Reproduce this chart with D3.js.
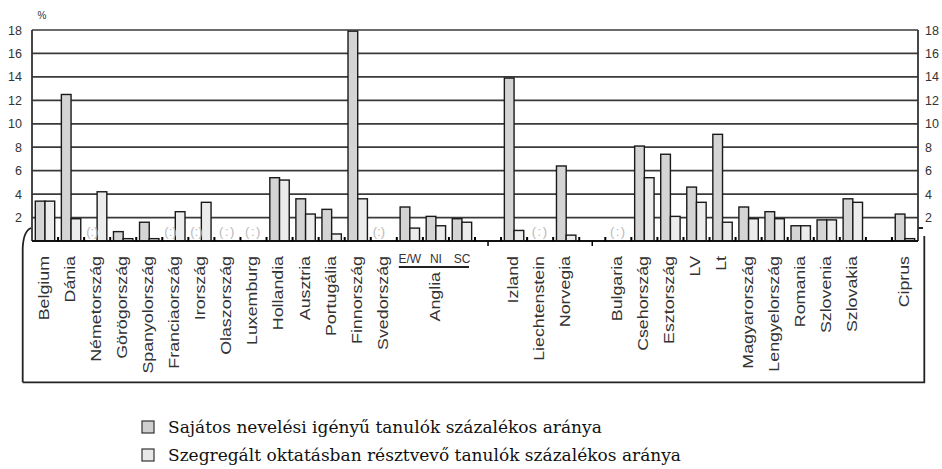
<!DOCTYPE html>
<html>
<head>
<meta charset="utf-8">
<script src="https://cdn.jsdelivr.net/npm/d3@7"></script>
<style>
  body { margin: 0; background: #fff; }
  svg { display: block; }
</style>
</head>
<body>
<div id="vis"></div>
<script>
// országok (üres = elválasztó hely)
const categories = ["Belgium", "Dánia", "Németország", "Görögország", "Spanyolország", "Franciaország",
  "Irország", "Olaszország", "Luxemburg", "Hollandia", "Ausztria", "Portugália", "Finnország",
  "Svedország", "E/W", "NI", "SC", "", "Izland", "Liechtenstein", "Norvegia", "", "Bulgaria",
  "Csehország", "Esztország", "LV", "Lt", "Magyarország", "Lengyelország", "Romania", "Szlovenia",
  "Szlovakia", "", "Ciprus"];
// Sajátos nevelési igényű tanulók százalékos aránya
const sni = [3.4, 12.5, null, 0.8, 1.6, null, null, null, null, 5.4, 3.6, 2.7, 17.9, null, 2.9, 2.1, 1.9, 0,
  13.9, null, 6.4, 0, null, 8.1, 7.4, 4.6, 9.1, 2.9, 2.5, 1.3, 1.8, 3.6, 0, 2.3];
// Szegregált oktatásban résztvevő tanulók százalékos aránya
const szeg = [3.4, 1.9, 4.2, 0.2, 0.2, 2.5, 3.3, null, null, 5.2, 2.3, 0.6, 3.6, 0, 1.1, 1.3, 1.6, 0,
  0.9, null, 0.5, 0, null, 5.4, 2.1, 3.3, 1.6, 1.9, 1.9, 1.3, 1.8, 3.3, 0, 0.2];
// hiányzó adat "(:)" : [ország index, melyik oszlop]
const missing = [[2, "sni"], [5, "sni"], [6, "sni"], [7, "both"], [8, "both"], [13, "sni"], [19, "both"], [22, "both"]];
const yTicks = [2, 4, 6, 8, 10, 12, 14, 16, 18];
const hLabels = [14, 15, 16]; // E/W, NI, SC vízszintesen
const legendLabels = ["Sajátos nevelési igényű tanulók százalékos aránya",
  "Szegregált oktatásban résztvevő tanulók százalékos aránya"];

const size = {width: 942, height: 469};
const margin = {left: 32, right: 24, top: 30, bottom: 228};
const colors = {sni: "#d4d4d4", szeg: "#ececec"};
const sans = "Liberation Sans, Arial, sans-serif";

const svg = d3.select("#vis").append("svg")
  .attr("width", size.width)
  .attr("height", size.height);

const x = d3.scaleBand()
  .domain(d3.range(categories.length))
  .range([margin.left, size.width - margin.right]);
const xs = d3.scaleBand()
  .domain(["sni", "szeg"])
  .range([3.3, 22.7]);
const y = d3.scaleLinear()
  .domain([0, 18])
  .range([size.height - margin.bottom, margin.top]);
const y0 = y(0);
const left = margin.left, right = size.width - margin.right;

// label box under the chart
svg.append("path")
  .attr("d", `M22.7,382.3 L22.7,248 Q23.5,231 31,228 M918,228 L923,228 M924.3,236 L924.3,382.3 L22.7,382.3`)
  .attr("fill", "none").attr("stroke", "#222").attr("stroke-width", 1.8);

// gridlines
svg.append("g").selectAll("line")
  .data(yTicks)
  .join("line")
  .attr("x1", left).attr("x2", right)
  .attr("y1", d => y(d)).attr("y2", d => y(d))
  .attr("stroke", "#3a3a3a").attr("stroke-width", 1.7);

// frame sides
svg.append("line").attr("x1", left).attr("x2", left).attr("y1", y(18)).attr("y2", y0)
  .attr("stroke", "#333").attr("stroke-width", 1.8);
svg.append("line").attr("x1", right).attr("x2", right).attr("y1", y(18)).attr("y2", y0)
  .attr("stroke", "#333").attr("stroke-width", 1.8);

// bars
const bars = [];
categories.forEach((c, i) => {
  if (sni[i]) bars.push({i, key: "sni", v: sni[i]});
  if (szeg[i]) bars.push({i, key: "szeg", v: szeg[i]});
});
svg.append("g").selectAll("rect")
  .data(bars)
  .join("rect")
  .attr("x", d => x(d.i) + xs(d.key))
  .attr("y", d => y(d.v))
  .attr("width", xs.bandwidth())
  .attr("height", d => y0 - y(d.v))
  .attr("fill", d => colors[d.key])
  .attr("stroke", "#1a1a1a")
  .attr("stroke-width", 1.4);

svg.append("line").attr("x1", left).attr("x2", right).attr("y1", y0).attr("y2", y0)
  .attr("stroke", "#111").attr("stroke-width", 2);

// small inside ticks at category boundaries
svg.append("g").selectAll("line")
  .data(d3.range(1, categories.length))
  .join("line")
  .attr("x1", d => left + x.step() * d).attr("x2", d => left + x.step() * d)
  .attr("y1", y0).attr("y2", y0 - 4)
  .attr("stroke", "#000").attr("stroke-width", 2);
// outside ticks in two separator gaps
svg.append("g").selectAll("line")
  .data([17, 21])
  .join("line")
  .attr("x1", d => x(d) + x.bandwidth() / 2).attr("x2", d => x(d) + x.bandwidth() / 2)
  .attr("y1", y0).attr("y2", y0 + 5)
  .attr("stroke", "#000").attr("stroke-width", 1.5);

// "(:)" missing markers
svg.append("g").selectAll("text")
  .data(missing)
  .join("text")
  .attr("x", d => d[1] === "both" ? x(d[0]) + x.bandwidth() / 2 : x(d[0]) + xs(d[1]) + xs.bandwidth() / 2)
  .attr("y", y0 - 5)
  .attr("text-anchor", "middle")
  .attr("font-family", sans)
  .attr("font-size", 13)
  .attr("letter-spacing", d => d[1] === "both" ? 1.5 : 0)
  .attr("fill", "#b8b8b8")
  .text("(:)");

// y axes
svg.append("g")
  .attr("transform", `translate(${left},0)`)
  .call(d3.axisLeft(y).tickValues(yTicks).tickSize(0).tickPadding(10));
svg.append("g")
  .attr("transform", `translate(${right},0)`)
  .call(d3.axisRight(y).tickValues(yTicks).tickSize(0).tickPadding(7));
svg.selectAll(".domain").remove();
svg.selectAll(".tick text")
  .attr("font-family", sans)
  .attr("font-size", 12.5)
  .attr("fill", "#333");

svg.append("text")
  .attr("x", 42).attr("y", 19)
  .attr("text-anchor", "middle")
  .attr("font-family", sans)
  .attr("font-size", 10)
  .attr("fill", "#333")
  .text("%");

// country labels (rotated)
const rotated = categories.map((c, i) => ({c, i})).filter(d => d.c && !hLabels.includes(d.i));
rotated.push({c: "Anglia", i: 15, top: 272});
svg.append("g").selectAll("text")
  .data(rotated)
  .join("text")
  .attr("transform", d => `translate(${x(d.i) + x.bandwidth() / 2 - 1},${d.top || 256}) rotate(-90) scale(1.27,1)`)
  .attr("dy", "0.35em")
  .attr("text-anchor", "end")
  .attr("font-family", sans)
  .attr("font-size", 14)
  .attr("fill", "#333")
  .text(d => d.c);

svg.append("g").selectAll("text")
  .data(hLabels)
  .join("text")
  .attr("x", d => x(d) + x.bandwidth() / 2)
  .attr("y", 263)
  .attr("text-anchor", "middle")
  .attr("font-family", sans)
  .attr("font-size", 12)
  .attr("fill", "#333")
  .text(d => categories[d]);
svg.append("line")
  .attr("x1", x(14) + 2).attr("x2", x(16) + x.bandwidth() - 6)
  .attr("y1", 267).attr("y2", 267)
  .attr("stroke", "#222").attr("stroke-width", 2);

// legend
const legend = svg.append("g").selectAll("g")
  .data(legendLabels)
  .join("g")
  .attr("transform", (d, i) => `translate(142,${421 + i * 28})`);
legend.append("rect")
  .attr("width", 12).attr("height", 12)
  .attr("fill", (d, i) => i === 0 ? "#cfcfcf" : "#e8e8e8")
  .attr("stroke", "#333").attr("stroke-width", 1.2);
legend.append("text")
  .attr("style", "font-family: 'DejaVu Serif', 'Liberation Serif', serif; font-size: 17px; fill: #111")
  .attr("x", 26).attr("y", 12)
  .text(d => d);
</script>
</body>
</html>
